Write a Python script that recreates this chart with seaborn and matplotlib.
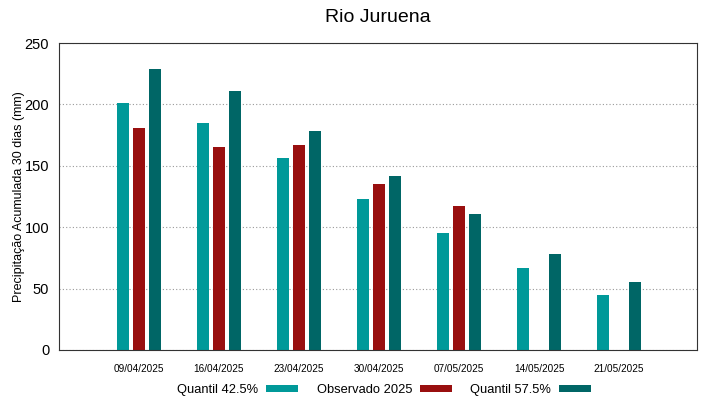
import numpy as np
import pandas as pd
import seaborn as sns
import matplotlib.pyplot as plt

datas = ['09/04/2025', '16/04/2025', '23/04/2025', '30/04/2025',
         '07/05/2025', '14/05/2025', '21/05/2025']
q425 = [201, 185, 156, 123, 95, 67, 45]
obs2025 = [181, 165, 167, 135, 117, np.nan, np.nan]
q575 = [229, 211, 178, 142, 111, 78, 55]

series = ['Quantil 42.5%', 'Observado 2025', 'Quantil 57.5%']
cores = ['#009999', '#990f0f', '#006666']

df = pd.DataFrame({
    'data': datas * 3,
    'serie': [series[0]] * 7 + [series[1]] * 7 + [series[2]] * 7,
    'valor': q425 + obs2025 + q575,
})

sns.set_style('white')
plt.rcParams['font.family'] = ['Liberation Sans', 'DejaVu Sans']
plt.rcParams['text.color'] = 'black'
plt.rcParams['xtick.color'] = 'black'
plt.rcParams['ytick.color'] = 'black'
plt.rcParams['axes.labelcolor'] = 'black'

fig = plt.figure(figsize=(7.19, 3.99), dpi=100)
ax = fig.add_axes([0.082, 0.123, 0.887, 0.769])

sns.barplot(data=df, x='data', y='valor', hue='serie', palette=cores,
            width=0.6, gap=0.2, ax=ax, saturation=1, errorbar=None,
            linewidth=0)

ax.set_xlim(-1, 6.97)
ax.set_ylim(0, 250)
ax.set_yticks([0, 50, 100, 150, 200, 250])
ax.yaxis.grid(True, linestyle=(0, (1, 2)), color='#999999', linewidth=0.8)
ax.set_axisbelow(True)
for s in ax.spines.values():
    s.set_color('#333333')
    s.set_linewidth(0.8)
ax.tick_params(axis='x', labelsize=7.2, length=0, pad=10)
ax.tick_params(axis='y', labelsize=10.5, length=0, pad=7)
ax.set_xlabel('')
ax.set_ylabel('Precipitação Acumulada 30 dias (mm)', fontsize=9)
ax.yaxis.set_label_coords(-0.054, 0.5)
ax.set_title('Rio Juruena', fontsize=14, pad=15)

ax.legend(loc='upper center', bbox_to_anchor=(0.51, -0.082), ncol=3,
          frameon=False, markerfirst=False, fontsize=9.3,
          handlelength=2.5, handleheight=0.45, columnspacing=1.4,
          handletextpad=0.6, borderpad=0.2)

fig.savefig('out.png', dpi=100)
